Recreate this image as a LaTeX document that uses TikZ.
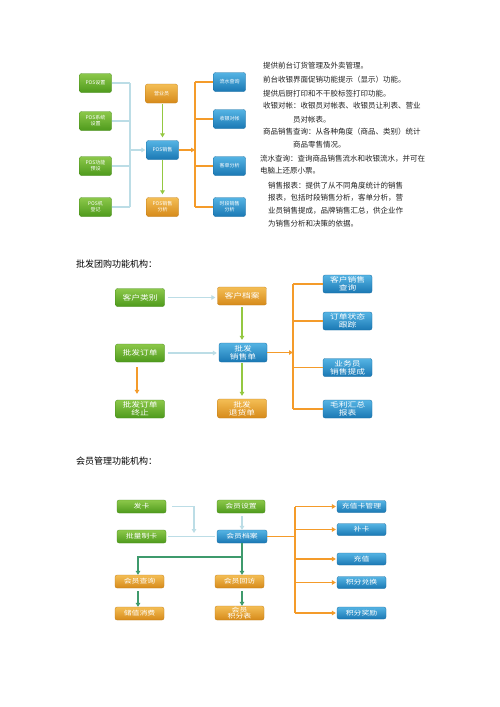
\documentclass[tikz,border=0pt]{standalone}
\usepackage{fontspec}
\usetikzlibrary{arrows.meta}
\newfontfamily\cjk{Noto Sans CJK SC}
\newfontfamily\cjkw{Noto Sans CJK SC}[FakeStretch=1.25]
\definecolor{gT}{HTML}{8CC84A}
\definecolor{gB}{HTML}{4E9A1C}
\definecolor{oT}{HTML}{F4BE55}
\definecolor{oB}{HTML}{D68A1A}
\definecolor{bT}{HTML}{55B4E4}
\definecolor{bB}{HTML}{1A78B4}
\definecolor{lbl}{HTML}{BCDDE6}
\definecolor{orl}{HTML}{F49B2A}
\definecolor{grl}{HTML}{94C841}
\definecolor{dgl}{HTML}{3E9A6C}
\definecolor{txt}{HTML}{222222}
\tikzset{
  box/.style={rounded corners=2pt, text=white, inner sep=0pt, align=center},
  gbox/.style={box, top color=gT, bottom color=gB, draw=gB!90!black, line width=0.3pt},
  obox/.style={box, top color=oT, bottom color=oB, draw=oB!90!black, line width=0.3pt},
  bbox/.style={box, top color=bT, bottom color=bB, draw=bB!90!black, line width=0.3pt},
  sz1/.style={minimum width=32pt, minimum height=19pt, font=\cjk\fontsize{5}{6}\selectfont},
  sz2/.style={minimum width=49pt, minimum height=18pt, font=\cjkw\fontsize{7}{7.8}\selectfont},
  sz3/.style={minimum width=49pt, minimum height=13pt, font=\cjkw\fontsize{6.3}{6.6}\selectfont},
  tip/.style={-{Triangle[length=4pt,width=4.5pt]}},
  lbline/.style={draw=lbl, line width=1.3pt},
  orline/.style={draw=orl, line width=1.4pt},
  grline/.style={draw=grl, line width=1.4pt},
  dgline/.style={draw=dgl, line width=1.8pt},
  side/.style={anchor=west, inner sep=0pt, text=txt, font=\cjk\fontsize{7.5}{8}\selectfont},
  ttl/.style={anchor=west, inner sep=0pt, text=black, font=\cjk\fontsize{9}{10}\selectfont}
}
\begin{document}
\begin{tikzpicture}[x=1pt,y=-1pt]
\path[use as bounding box, fill=white] (0,0) rectangle (500,707);

% ---------------- Top diagram ----------------
\node[gbox,sz1] (p1) at (95.5,83) {POS设置};
\node[gbox,sz1] (p2) at (95.5,121) {POS系统\\设置};
\node[gbox,sz1] (p3) at (95.5,166) {POS功能\\预设};
\node[gbox,sz1] (p4) at (95.5,207) {POS机\\登记};
\node[obox,sz1] (yy) at (161.5,93.5) {营业员};
\node[bbox,sz1] (ps) at (162.5,150) {POS销售};
\node[obox,sz1] (pa) at (162.5,207) {POS销售\\分析};
\node[bbox,sz1] (r1) at (229.5,82) {流水查询};
\node[bbox,sz1] (r2) at (229.5,119) {收银对帐};
\node[bbox,sz1] (r3) at (229.5,166) {客单分析};
\node[bbox,sz1] (r4) at (229.5,207) {时段销售\\分析};

\coordinate (tx) at (130,150);
\coordinate (ox) at (195,150);
\draw[lbline] (p1.east) -- (p1.east -| tx);
\draw[lbline] (p2.east) -- (p2.east -| tx);
\draw[lbline] (p3.east) -- (p3.east -| tx);
\draw[lbline] (p4.east) -- (p4.east -| tx);
\draw[lbline] (p1.east -| tx) -- (p4.east -| tx);
\draw[lbline,tip,shorten >=1pt] (tx) -- (ps.west);
\draw[grline,tip,shorten <=1pt,shorten >=3pt] (yy.south -| ps.north) -- (ps.north);
\draw[grline,tip,shorten >=3pt] (ps.south) -- (pa.north);
\draw[orline,tip] (ps.east) -- (ox);
\draw[orline] (r1.west -| ox) -- (r4.west -| ox);
\draw[orline] (r1.west -| ox) -- (r1.west);
\draw[orline] (r2.west -| ox) -- (r2.west);
\draw[orline] (r3.west -| ox) -- (r3.west);
\draw[orline] (r4.west -| ox) -- (r4.west);

% side text
\node[side] (s1) at (263,65.7) {提供前台订货管理及外卖管理。};
\node[side] (s2) at (263,80) {前台收银界面促销功能提示（显示）功能。};
\node[side] (s3) at (263,93.3) {提供后厨打印和不干胶标签打印功能。};
\node[side] (s4) at (263,106) {收银对帐：收银员对帐表、收银员让利表、营业};
\node[side] (s5) at (293,119.5) {员对帐表。};
\node[side] (s6) at (263,131.7) {商品销售查询：从各种角度（商品、类别）统计};
\node[side] (s7) at (293,145) {商品零售情况。};
\node[side] (s8) at (260,158.3) {流水查询：查询商品销售流水和收银流水，并可在};
\node[side] (s9) at (260,170.7) {电脑上还原小票。};
\node[side] (s10) at (268,186) {销售报表：提供了从不同角度统计的销售};
\node[side] (s11) at (268,197.5) {报表，包括时段销售分析，客单分析，营};
\node[side] (s12) at (268,210.7) {业员销售提成，品牌销售汇总，供企业作};
\node[side] (s13) at (268,224) {为销售分析和决策的依据。};

% ---------------- Middle diagram ----------------
\node[ttl] (t2) at (76,264) {批发团购功能机构：};
\node[gbox,sz2] (m1) at (140,297.5) {客户类别};
\node[obox,sz2] (m2) at (242,296) {客户档案};
\node[gbox,sz2] (m3) at (140,353) {批发订单};
\node[bbox,sz2,minimum width=48pt,minimum height=19pt] (m4) at (243,352.5) {批发\\销售单};
\node[gbox,sz2] (m5) at (140,409) {批发订单\\终止};
\node[obox,sz2,minimum height=19pt] (m6) at (242,408.5) {批发\\退货单};
\node[bbox,sz2] (n1) at (347.5,284) {客户销售\\查询};
\node[bbox,sz2] (n2) at (347.5,321) {订单状态\\跟踪};
\node[bbox,sz2] (n3) at (347.5,367.5) {业务员\\销售提成};
\node[bbox,sz2] (n4) at (347.5,409) {毛利汇总\\报表};

\coordinate (ox2) at (293,352.5);
\draw[lbline,tip,shorten <=3pt,shorten >=2pt] (m1.east) -- (m1.east -| m2.west);
\draw[lbline,tip,shorten <=3pt,shorten >=2pt] (m3.east) -- (m3.east -| m4.west);
\draw[grline,tip,shorten <=2pt,shorten >=3pt] (m2.south) -- (m2.south |- m4.north);
\draw[grline,tip,shorten <=1pt,shorten >=3pt] (m2.south |- m4.south) -- (m6.north);
\draw[orline,tip,shorten <=5pt,shorten >=6pt] (m3.south -| 137,0) -- (m5.north -| 137,0);
\draw[orline,tip] (m4.east) -- (ox2);
\draw[orline] (n1.west -| ox2) -- (n4.west -| ox2);
\draw[orline] (n1.west -| ox2) -- (n1.west);
\draw[orline] (n2.west -| ox2) -- (n2.west);
\draw[orline] (n3.west -| ox2) -- (n3.west);
\draw[orline] (n4.west -| ox2) -- (n4.west);

% ---------------- Bottom diagram ----------------
\node[ttl] (t3) at (76,461) {会员管理功能机构：};
\node[gbox,sz3] (b1) at (141.5,506.5) {发卡};
\node[gbox,sz3] (b2) at (141.5,536.5) {批量制卡};
\node[gbox,sz3,minimum width=48pt] (b3) at (241,506.5) {会员设置};
\node[bbox,sz3,minimum width=50pt] (b4) at (242,536.5) {会员档案};
\node[obox,sz3] (b5) at (139.5,581.5) {会员查询};
\node[obox,sz3] (b6) at (139.5,613.5) {储值消费};
\node[obox,sz3] (b7) at (239.5,581.5) {会员回访};
\node[obox,sz3,minimum height=14pt] (b8) at (239.5,613) {会员\\积分表};
\node[bbox,sz3,minimum width=49pt,minimum height=12pt] (c1) at (361.5,506.5) {充值卡管理};
\node[bbox,sz3,minimum height=12pt] (c2) at (361.5,529.5) {补卡};
\node[bbox,sz3,minimum height=12pt] (c3) at (361.5,559) {充值};
\node[bbox,sz3,minimum height=12pt] (c4) at (361.5,582.5) {积分兑换};
\node[bbox,sz3,minimum height=12pt] (c5) at (361.5,613) {积分奖励};

\coordinate (ja) at (194,533);
\draw[lbline,line width=1.1pt,tip,shorten <=6pt] (b1.east) -| (ja);
\draw[lbline,line width=1.1pt,shorten <=2pt,shorten >=2pt] (b2.east) -- (b4.west);
\draw[lbline,line width=1.1pt,tip,shorten <=3pt] (b3.south -| b4.north) -- (b4.north);
\coordinate (gj) at (242,557);
\coordinate (gl) at (138,557);
\draw[dgline,tip] (b4.south) -- (b4.south |- b7.north);
\draw[dgline,tip] (gj) -- (gl) -- (gl |- b5.north);
\draw[dgline,tip,shorten <=3pt] (gl |- b5.south) -- (gl |- b6.north);
\draw[dgline,tip,shorten <=3pt] (b4.south |- b7.south) -- (b4.south |- b8.north);
\coordinate (ox3) at (295,536.5);
\draw[orline,line width=1.2pt] (b4.east) -- (ox3);
\draw[orline,line width=1.2pt] (c1.west -| ox3) -- (c5.west -| ox3);
\draw[orline,line width=1.2pt,tip,shorten >=1pt] (c1.west -| ox3) -- (c1.west);
\draw[orline,line width=1.2pt,tip,shorten >=1pt] (c2.west -| ox3) -- (c2.west);
\draw[orline,line width=1.2pt,tip,shorten >=1pt] (c3.west -| ox3) -- (c3.west);
\draw[orline,line width=1.2pt,tip,shorten >=1pt] (c4.west -| ox3) -- (c4.west);
\draw[orline,line width=1.2pt,tip,shorten >=1pt] (c5.west -| ox3) -- (c5.west);
\end{tikzpicture}
\end{document}
